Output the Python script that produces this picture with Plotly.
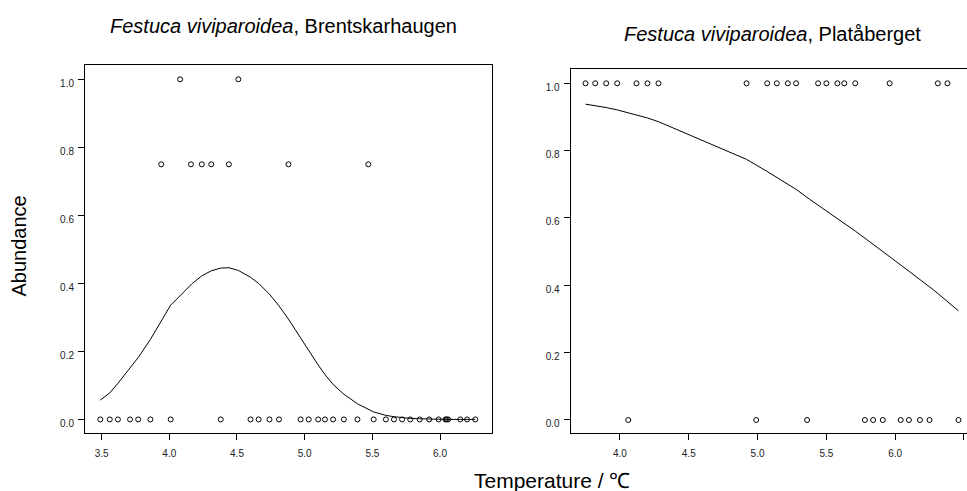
import plotly.graph_objects as go

# Brentskarhaugen: observed abundance vs temperature
brent_x_100 = [4.08, 4.51]
brent_x_075 = [3.94, 4.16, 4.24, 4.31, 4.44, 4.88, 5.47]
brent_x_000 = [3.49, 3.56, 3.62, 3.71, 3.77, 3.86, 4.01, 4.38, 4.60, 4.66,
               4.74, 4.81, 4.97, 5.03, 5.10, 5.15, 5.21, 5.29, 5.39, 5.51,
               5.60, 5.66, 5.72, 5.78, 5.85, 5.92, 5.99, 6.04, 6.05, 6.06,
               6.15, 6.20, 6.26]

# Brentskarhaugen: fitted response curve
brent_fit_x = [3.49, 3.56, 3.62, 3.71, 3.77, 3.86, 4.01, 4.17, 4.24, 4.31,
               4.38, 4.44, 4.51, 4.60, 4.66, 4.74, 4.81, 4.88, 4.97, 5.03,
               5.10, 5.15, 5.21, 5.29, 5.39, 5.51, 5.60, 5.66, 5.72, 5.78,
               5.85, 5.92, 5.99, 6.05, 6.15, 6.20, 6.26]
brent_fit_y = [0.057, 0.078, 0.106, 0.150, 0.182, 0.235, 0.336, 0.400, 0.422, 0.437,
               0.445, 0.446, 0.438, 0.418, 0.400, 0.368, 0.334, 0.295, 0.240, 0.200,
               0.160, 0.132, 0.103, 0.074, 0.046, 0.022, 0.012, 0.008, 0.005, 0.003,
               0.002, 0.001, 0.001, 0.0, 0.0, 0.0, 0.0]

# Platåberget: observed abundance vs temperature
plat_x_100 = [3.75, 3.82, 3.90, 3.98, 4.12, 4.20, 4.28, 4.92, 5.07, 5.14,
              5.22, 5.28, 5.44, 5.50, 5.58, 5.63, 5.71, 5.96, 6.31, 6.38]
plat_x_000 = [4.06, 4.99, 5.36, 5.78, 5.84, 5.91, 6.04, 6.10, 6.18, 6.25, 6.46]

# Platåberget: fitted response curve
plat_fit_x = [3.75, 3.82, 3.90, 3.98, 4.12, 4.20, 4.28, 4.92, 5.07, 5.16,
              5.22, 5.28, 5.38, 5.44, 5.50, 5.60, 5.71, 5.79, 5.96, 6.04,
              6.10, 6.18, 6.28, 6.46]
plat_fit_y = [0.938, 0.934, 0.928, 0.921, 0.906, 0.897, 0.886, 0.774, 0.738, 0.715,
              0.700, 0.685, 0.655, 0.638, 0.622, 0.594, 0.561, 0.537, 0.486, 0.460,
              0.442, 0.417, 0.386, 0.324]

y_ticks = [0.0, 0.2, 0.4, 0.6, 0.8, 1.0]
y_tick_text = ["0.0", "0.2", "0.4", "0.6", "0.8", "1.0"]
brent_x_ticks = [3.5, 4.0, 4.5, 5.0, 5.5, 6.0]
plat_x_ticks = [4.0, 4.5, 5.0, 5.5, 6.0, 6.5]

FONT = "Liberation Sans, Arial, Helvetica, sans-serif"
W, H = 967, 491

marker = dict(symbol="circle-open", size=5, color="black", line=dict(width=1, color="black"))
line = dict(color="black", width=1)

fig = go.Figure()

fig.add_trace(go.Scatter(x=brent_fit_x, y=brent_fit_y, mode="lines", line=line,
                         xaxis="x", yaxis="y", hoverinfo="skip"))
for xs, val in [(brent_x_100, 1.0), (brent_x_075, 0.75), (brent_x_000, 0.0)]:
    fig.add_trace(go.Scatter(x=xs, y=[val] * len(xs), mode="markers", marker=marker,
                             xaxis="x", yaxis="y"))

fig.add_trace(go.Scatter(x=plat_fit_x, y=plat_fit_y, mode="lines", line=line,
                         xaxis="x2", yaxis="y2", hoverinfo="skip"))
for xs, val in [(plat_x_100, 1.0), (plat_x_000, 0.0)]:
    fig.add_trace(go.Scatter(x=xs, y=[val] * len(xs), mode="markers", marker=marker,
                             xaxis="x2", yaxis="y2"))

tick_font = dict(family=FONT, size=10, color="#222")
common_x = dict(showgrid=False, zeroline=False, showline=True, linecolor="black",
                linewidth=1, ticks="outside", ticklen=6, tickcolor="black",
                tickfont=tick_font, ticklabelstandoff=5)
common_y = dict(showgrid=False, zeroline=False, showline=True, linecolor="black",
                linewidth=1, ticks="outside", ticklen=6, tickcolor="black",
                tickfont=tick_font, tickvals=y_ticks, ticktext=y_tick_text,
                ticklabelshift=4, ticklabelstandoff=2)

label_font = dict(family=FONT, size=20, color="black")

fig.update_layout(
    width=W, height=H,
    margin=dict(l=0, r=0, t=0, b=0),
    paper_bgcolor="white", plot_bgcolor="white",
    showlegend=False,
    xaxis=dict(domain=[85 / W, 491.7 / W], range=[3.377, 6.382],
               tickvals=brent_x_ticks, ticktext=[f"{v:.1f}" for v in brent_x_ticks],
               mirror=True, anchor="y", **common_x),
    yaxis=dict(domain=[(H - 432.7) / H, (H - 65) / H], range=[-0.039, 1.042],
               mirror=True, anchor="x", **common_y),
    xaxis2=dict(domain=[570.7 / W, 1.0], range=[3.642, 6.522],
                tickvals=plat_x_ticks, ticktext=[f"{v:.1f}" for v in plat_x_ticks],
                mirror=True, anchor="y2", **common_x),
    yaxis2=dict(domain=[(H - 433.3) / H, (H - 69.3) / H], range=[-0.0396, 1.0416],
                mirror=False, anchor="x2", **common_y),
    annotations=[
        dict(text="<i>Festuca viviparoidea</i>, Brentskarhaugen", x=283 / W, y=(H - 26) / H,
             xref="paper", yref="paper", showarrow=False, xanchor="center", yanchor="middle",
             font=label_font),
        dict(text="<i>Festuca viviparoidea</i>, Platåberget", x=772.5 / W, y=(H - 34) / H,
             xref="paper", yref="paper", showarrow=False, xanchor="center", yanchor="middle",
             font=label_font),
        dict(text="Abundance", x=18.5 / W, y=(H - 246) / H, textangle=-90,
             xref="paper", yref="paper", showarrow=False, xanchor="center", yanchor="middle",
             font=label_font),
        dict(text="Temperature / ℃", x=552 / W, y=(H - 480) / H,
             xref="paper", yref="paper", showarrow=False, xanchor="center", yanchor="middle",
             font=dict(family=FONT, size=21, color="black")),
    ],
)

fig.write_html("out.html")
